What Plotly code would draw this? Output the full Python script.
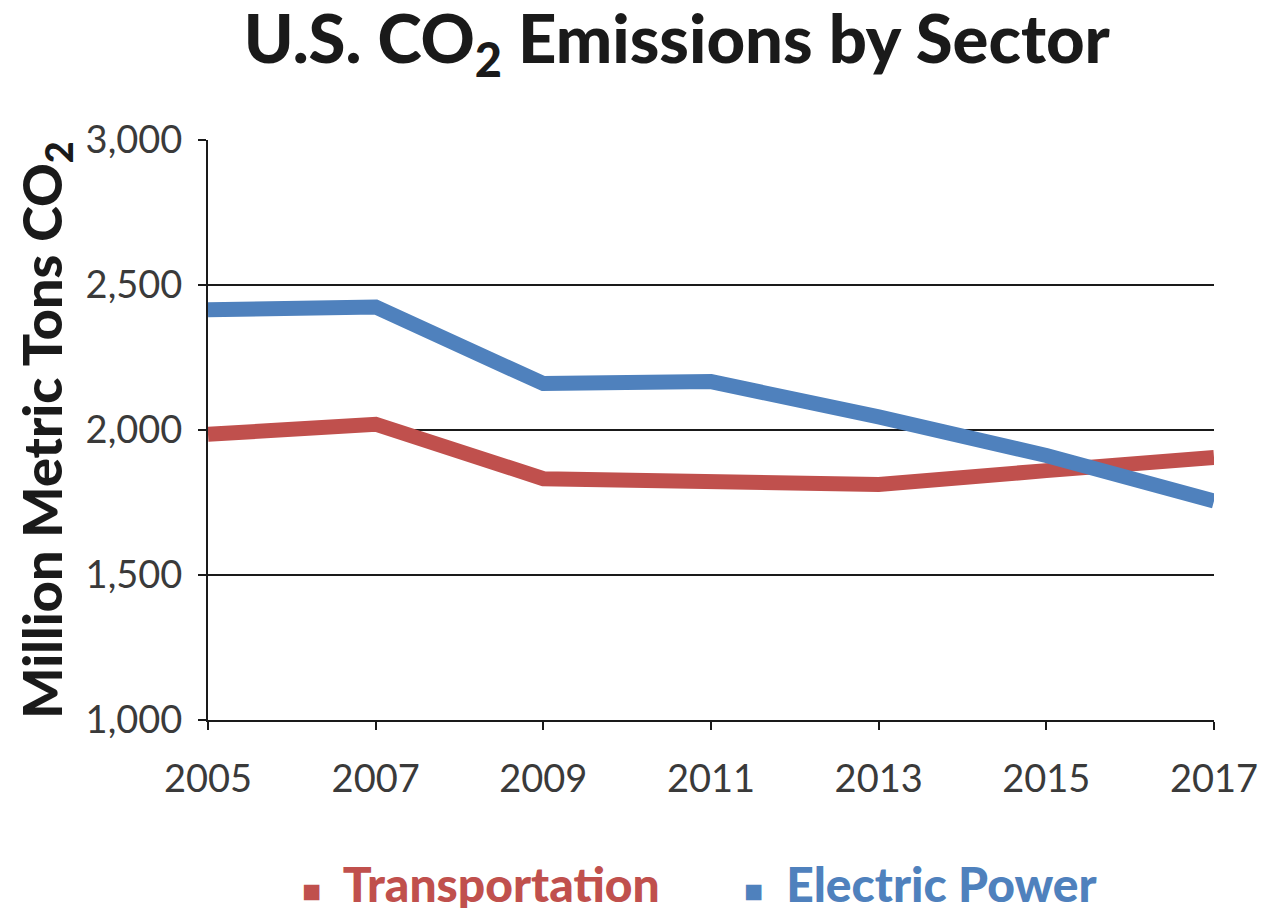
import plotly.graph_objects as go

years = [2005, 2007, 2009, 2011, 2013, 2015, 2017]
transportation = [1985, 2020, 1832, 1822, 1812, 1860, 1905]
electric_power = [2415, 2424, 2160, 2167, 2045, 1912, 1755]
tick_years = [2005, 2007, 2009, 2011, 2013, 2015, 2017]
y_ticks = [1000, 1500, 2000, 2500, 3000]

RED = "#C0504D"
BLUE = "#4F81BD"

fig = go.Figure()
fig.add_trace(go.Scatter(x=years, y=transportation, mode="lines", name="Transportation",
                         line=dict(color=RED, width=15), showlegend=False))
fig.add_trace(go.Scatter(x=years, y=electric_power, mode="lines", name="Electric Power",
                         line=dict(color=BLUE, width=15), showlegend=False))

fig.update_layout(
    width=1262, height=900,
    margin=dict(l=200, r=50, t=132, b=188),
    plot_bgcolor="white", paper_bgcolor="white",
    font=dict(family="Lato", color="#333333"),
    title=dict(text="U.S. CO<sub>2</sub> Emissions by Sector", x=0.53, xanchor="center",
               y=0.965, yanchor="middle",
               font=dict(family="Lato", size=67, color="#1a1a1a", weight=900)),
    xaxis=dict(range=[2005, 2017], tickvals=tick_years, ticktext=[str(y) for y in tick_years],
               showgrid=False, showline=True, linecolor="#1a1a1a", linewidth=2,
               ticks="outside", ticklen=8, tickwidth=2, tickcolor="#1a1a1a",
               ticklabelstandoff=16,
               tickfont=dict(size=38, color="#3a3a3a"), zeroline=False),
    yaxis=dict(range=[1000, 3000], tickvals=y_ticks, tickformat=",",
               showgrid=True, gridcolor="#1a1a1a", gridwidth=2,
               showline=True, linecolor="#1a1a1a", linewidth=2,
               ticks="outside", ticklen=8, tickwidth=2, tickcolor="#1a1a1a",
               ticklabelstandoff=8,
               tickfont=dict(size=38, color="#3a3a3a"), zeroline=False,
               title=dict(text="Million Metric Tons CO<sub>2</sub>",
                          font=dict(size=54, color="#1a1a1a", weight=900), standoff=6)),
)

fig.add_annotation(x=0.091, y=-0.282, xref="paper", yref="paper", xanchor="left", yanchor="middle",
                   showarrow=False,
                   text="<span style='font-size:32px'>■</span>  Transportation",
                   font=dict(size=48, color=RED, family="Lato", weight=900))
fig.add_annotation(x=0.531, y=-0.282, xref="paper", yref="paper", xanchor="left", yanchor="middle",
                   showarrow=False,
                   text="<span style='font-size:32px'>■</span>  Electric Power",
                   font=dict(size=48, color=BLUE, family="Lato", weight=900))

fig.write_html("out.html")
